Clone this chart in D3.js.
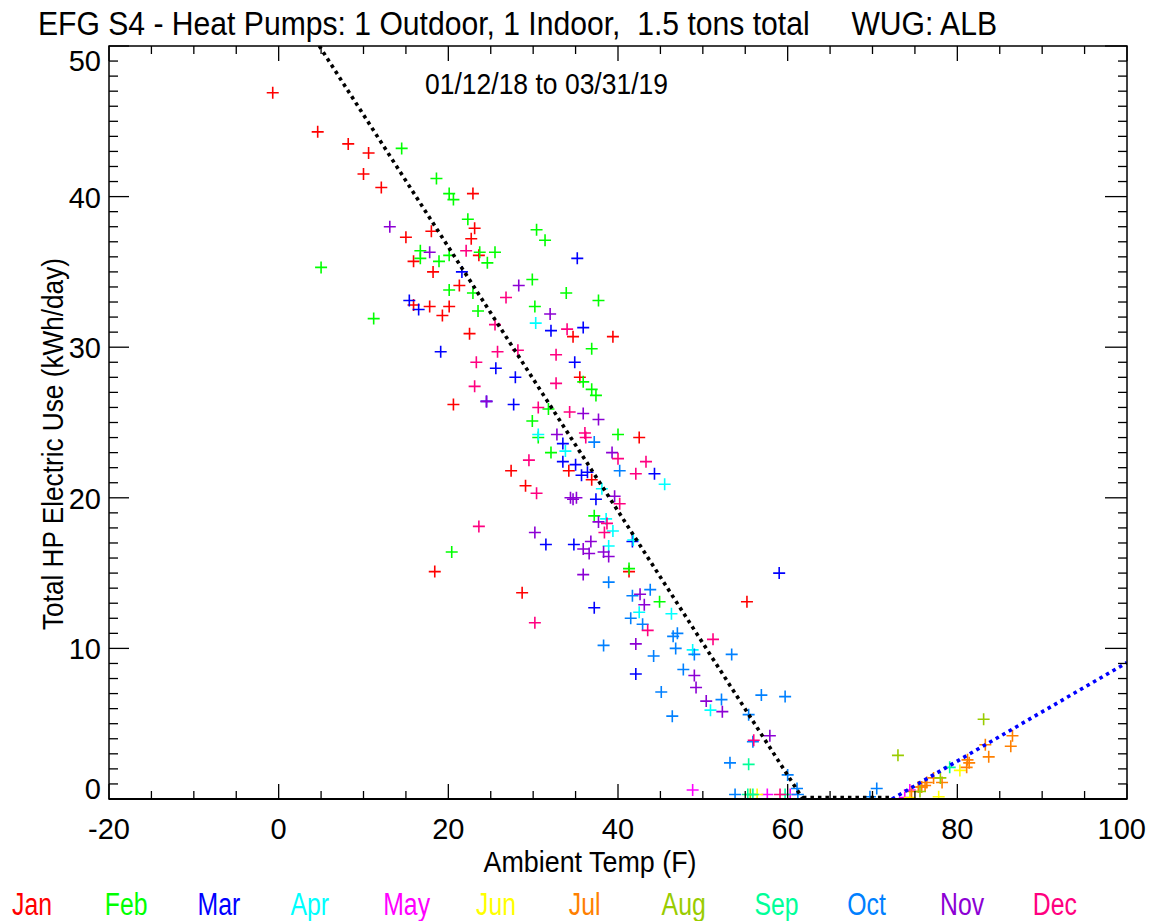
<!DOCTYPE html>
<html>
<head>
<meta charset="utf-8">
<script src="https://cdn.jsdelivr.net/npm/d3@7"></script>
<style>
  html, body { margin: 0; padding: 0; background: #fff; }
  svg { display: block; }
  text { font-family: "Liberation Sans", Arial, sans-serif; fill: #000; white-space: pre; }
</style>
</head>
<body>
<svg id="chart" width="1150" height="921"></svg>
<script>
// Daily heat-pump electric use vs. ambient temperature, coloured by month.
const months = ["Jan","Feb","Mar","Apr","May","Jun","Jul","Aug","Sep","Oct","Nov","Dec"];
const monthColors = ["#ff0000","#00ff00","#0000ff","#00ffff","#ff00ff","#ffff00",
                     "#ff8000","#99cc00","#00ff99","#0080ff","#8c00d4","#ff0080"];

// [ambient temp (F), kWh/day]
const jan = [[-0.7,46.9],[4.6,44.3],[8.2,43.5],[10.6,42.9],[10.0,41.5],[12.1,40.6],[22.9,40.2],[23.1,37.9],
  [22.7,37.2],[15.0,37.3],[18.0,37.7],[23.6,36.1],[15.9,35.7],[18.2,35.0],[21.3,34.1],[15.9,32.8],[17.8,32.7],
  [20.1,32.7],[19.3,32.1],[22.5,30.9],[20.6,26.2],[27.4,21.8],[29.1,20.8],[34.2,21.8],[36.9,21.2],[42.5,24.0],
  [18.4,15.1],[41.3,15.1],[28.7,13.7],[55.2,13.1],[39.4,30.7],[34.7,30.7],[35.5,28.0]];
const feb = [[14.5,43.2],[18.6,41.2],[20.1,40.2],[20.6,39.8],[22.3,38.5],[23.7,36.3],[25.5,36.3],[24.6,35.6],
  [16.7,36.4],[16.7,35.9],[18.9,35.7],[20.1,36.1],[20.1,33.8],[22.9,33.6],[5.0,35.3],[23.5,32.4],[11.2,31.9],
  [30.4,37.8],[31.4,37.1],[29.9,34.5],[33.9,33.6],[37.7,33.1],[30.2,32.7],[36.9,29.9],[35.9,27.7],[36.9,27.2],
  [37.4,26.8],[31.8,25.9],[29.9,25.1],[30.6,24.0],[40.0,24.2],[32.1,23.0],[37.2,18.8],[20.4,16.4],[41.3,15.3],
  [44.9,13.1]];
const mar = [[21.6,35.0],[15.4,33.1],[16.5,32.5],[35.2,35.9],[35.9,31.3],[32.1,31.1],[19.1,29.7],[25.6,28.6],
  [24.5,26.4],[27.7,26.2],[33.5,23.6],[33.5,22.4],[35.0,22.2],[35.7,21.5],[36.4,21.7],[37.4,19.9],[41.7,17.1],
  [31.5,16.9],[34.8,16.9],[37.2,12.7],[42.1,8.3],[34.9,29.0],[27.9,28.0],[59.0,15.0],[44.3,21.6]];
const apr = [[30.3,31.6],[30.6,24.2],[33.8,23.1],[38.1,20.6],[38.6,18.6],[39.4,17.8],[41.8,17.2],[38.9,16.8],
  [42.5,12.4],[46.3,12.3],[48.8,9.9],[50.9,5.9],[45.5,20.9]];
const may = [[48.8,0.6],[57.6,0.3],[60.3,0.3],[74.4,0.6],[73.8,0.1]];
const jun = [[56.4,0.3],[80.3,1.9],[77.8,0.15],[74.4,0.1]];
const jul = [[86.5,4.2],[86.3,3.5],[83.3,3.6],[83.7,2.8],[81.2,2.6],[81.4,2.4],[81.1,2.1],[78.2,1.1],
  [77.2,1.4],[76.4,1.1],[76.2,0.9],[75.8,0.8],[75.4,0.8],[74.6,0.5]];
const aug = [[83.1,5.3],[73.0,2.9],[78.0,1.4],[75.6,0.5],[55.6,0.3]];
const sep = [[55.4,2.3],[55.3,0.3],[55.9,0.3],[59.7,0.3],[79.1,2.1]];
const oct = [[38.3,10.2],[41.5,12.0],[42.9,11.6],[41.7,13.5],[38.9,14.4],[37.2,23.7],[40.2,21.8],[46.5,10.8],
  [47.0,11.0],[44.2,9.5],[46.8,10.0],[49.0,9.6],[53.4,9.6],[47.7,8.6],[45.1,7.1],[52.2,6.6],[56.9,6.9],
  [59.7,6.8],[46.4,5.5],[55.4,5.6],[55.9,3.8],[53.2,2.4],[60.0,1.6],[61.1,0.7],[53.8,0.3],[61.2,0.3],
  [70.5,0.7],[69.7,0.15],[43.8,13.9]];
const nov = [[13.1,38.0],[17.8,36.3],[28.3,34.1],[32.0,32.2],[24.5,26.4],[35.9,25.6],[37.7,25.2],[32.8,24.2],
  [39.3,23.0],[34.4,20.0],[35.1,20.0],[34.7,19.9],[39.6,20.1],[37.7,18.4],[30.2,17.7],[35.9,16.6],[36.8,17.1],
  [36.6,16.3],[38.3,16.4],[38.9,16.1],[35.9,14.9],[42.6,13.6],[43.1,12.9],[42.1,10.3],[49.0,8.2],[49.2,7.4],
  [50.4,6.5],[52.3,5.8],[57.9,4.2]];
const dec = [[22.1,36.4],[25.5,31.5],[23.3,29.0],[25.8,29.7],[23.1,27.4],[30.6,26.0],[34.3,25.7],[36.1,24.3],
  [36.2,24.0],[40.0,22.6],[43.3,22.4],[42.1,21.6],[29.5,22.5],[30.4,20.3],[40.2,19.6],[38.7,18.3],[38.4,17.7],
  [23.6,18.1],[30.2,11.7],[43.5,11.2],[51.2,10.6],[56.0,3.9],[59.1,0.3],[26.8,33.3],[34.0,31.2],[28.2,29.8],
  [32.7,29.5],[32.7,27.6]];
const monthData = [jan, feb, mar, apr, may, jun, jul, aug, sep, oct, nov, dec];

// Piecewise fit: heating slope, dead band, cooling slope
const heatingFit = [[0, 54.2], [61.8, 0]];
const deadBand = [[61.8, 0], [72.3, 0]];
const coolingFit = [[72.3, 0], [100, 9.06]];

const xTicks = [-20, 0, 20, 40, 60, 80, 100];
const yTicks = [0, 10, 20, 30, 40, 50];

const titleText = "EFG S4 - Heat Pumps: 1 Outdoor, 1 Indoor,  1.5 tons total     WUG: ALB";
const subtitleText = "01/12/18 to 03/31/19";
const xTitle = "Ambient Temp (F)";
const yTitle = "Total HP Electric Use (kWh/day)";

const svg = d3.select("#chart");
const L = 109, R = 1127, T = 46, B = 799;
const x = d3.scaleLinear().domain([-20, 100]).range([L, R]);
const y = d3.scaleLinear().domain([0, 50]).range([B, T]);

function condense(sel, k) {
  sel.each(function () {
    const w = this.getComputedTextLength();
    d3.select(this).attr("textLength", w * k).attr("lengthAdjust", "spacingAndGlyphs");
  });
}

svg.append("clipPath").attr("id", "plotClip")
  .append("rect").attr("x", L).attr("y", T).attr("width", R - L).attr("height", B - T);

// Scatter points as plus signs
const pts = svg.append("g").attr("clip-path", "url(#plotClip)");
monthData.forEach((arr, i) => {
  pts.selectAll(null).data(arr).enter().append("path")
    .attr("d", d => `M${x(d[0]) - 6},${y(d[1])}H${x(d[0]) + 6}M${x(d[0])},${y(d[1]) - 6}V${y(d[1]) + 6}`)
    .attr("stroke", monthColors[i]).attr("stroke-width", 1.6).attr("fill", "none");
});

// Fit lines
const line = d3.line().x(d => x(d[0])).y(d => y(d[1]));
const fits = svg.append("g").attr("clip-path", "url(#plotClip)");
fits.append("path").attr("d", line(heatingFit)).attr("stroke", "#000")
  .attr("stroke-width", 3.6).attr("stroke-dasharray", "3.5 4").attr("fill", "none");
fits.append("path").attr("d", line(deadBand)).attr("stroke", "#000")
  .attr("stroke-width", 3.6).attr("stroke-dasharray", "3.5 4").attr("fill", "none")
  .attr("transform", "translate(0,-1.5)");
fits.append("path").attr("d", line(coolingFit)).attr("stroke", "#0000ff")
  .attr("stroke-width", 3.6).attr("stroke-dasharray", "3.5 4").attr("fill", "none");

// Frame
svg.append("rect").attr("x", L).attr("y", T).attr("width", R - L).attr("height", B - T)
  .attr("fill", "none").attr("stroke", "#000").attr("stroke-width", 1.5);
svg.append("line").attr("x1", L).attr("x2", R).attr("y1", B).attr("y2", B)
  .attr("stroke", "#000").attr("stroke-width", 2.2);

// X ticks (major every 20, minor every 5) on bottom and top
const xMinor = d3.range(-20, 100.1, 5);
const tickG = svg.append("g").attr("stroke", "#000").attr("stroke-width", 1.3);
xMinor.forEach(v => {
  const major = v % 20 === 0;
  const len = major ? 15 : 8;
  tickG.append("line").attr("x1", x(v)).attr("x2", x(v)).attr("y1", B).attr("y2", B - len);
  tickG.append("line").attr("x1", x(v)).attr("x2", x(v)).attr("y1", T).attr("y2", T + len);
});
// Y ticks (major every 10, minor every 1) on left and right
d3.range(0, 50.1, 1).forEach(v => {
  const major = v % 10 === 0;
  tickG.append("line").attr("x1", L).attr("x2", L + (major ? 20 : 9)).attr("y1", y(v)).attr("y2", y(v));
  tickG.append("line").attr("x1", R).attr("x2", R - (major ? 22 : 9)).attr("y1", y(v)).attr("y2", y(v));
});

// Tick labels (the last x label is kept inside the page edge)
svg.append("g").selectAll("text").data(xTicks).enter().append("text")
  .attr("x", d => (d === 100 ? 1146 : x(d)))
  .attr("text-anchor", d => (d === 100 ? "end" : "middle"))
  .attr("y", 839).attr("font-size", 29).text(d => d);
svg.append("g").selectAll("text").data(yTicks).enter().append("text")
  .attr("x", 101).attr("y", d => Math.min(Math.max(y(d), T + 14), B - 11) + 11)
  .attr("text-anchor", "end").attr("font-size", 29).text(d => d);

// Titles
svg.append("text").attr("x", 38).attr("y", 35).attr("font-size", 34)
  .text(titleText).attr("textLength", 959).attr("lengthAdjust", "spacingAndGlyphs");
svg.append("text").attr("x", 425).attr("y", 94).attr("font-size", 29)
  .text(subtitleText).attr("textLength", 243).attr("lengthAdjust", "spacingAndGlyphs");
svg.append("text").attr("x", 590).attr("y", 872).attr("text-anchor", "middle").attr("font-size", 30)
  .text(xTitle).attr("textLength", 213).attr("lengthAdjust", "spacingAndGlyphs");
svg.append("text").attr("transform", "translate(63,444) rotate(-90)").attr("text-anchor", "middle")
  .attr("font-size", 30).text(yTitle).attr("textLength", 372).attr("lengthAdjust", "spacingAndGlyphs");

// Month colour key
svg.append("g").selectAll("text").data(months).enter().append("text")
  .attr("x", (d, i) => 12 + i * 92.8).attr("y", 915).attr("font-size", 31)
  .style("fill", (d, i) => monthColors[i]).text(d => d).call(condense, 0.8);
</script>
</body>
</html>
